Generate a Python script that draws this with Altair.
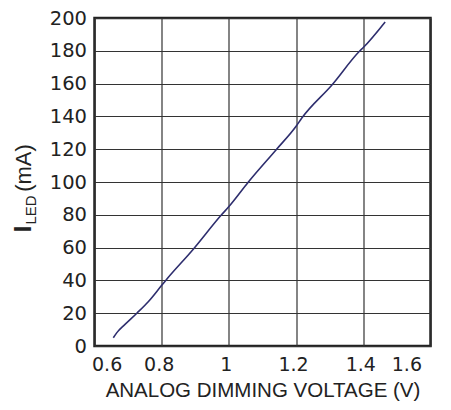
import altair as alt
import pandas as pd

voltage = [0.656, 0.666, 0.69, 0.726, 0.76, 0.8, 0.812, 0.894, 0.978, 1.0,
           1.058, 1.142, 1.2, 1.217, 1.306, 1.39, 1.4, 1.465]
current = [5, 8, 13, 20, 27, 37, 40, 59, 80, 85,
           100, 120, 134, 139, 159, 180, 182, 197.6]
x_ticks = [0.6, 0.8, 1.0, 1.2, 1.4, 1.6]
y_ticks = [0, 20, 40, 60, 80, 100, 120, 140, 160, 180, 200]
x_title = "ANALOG DIMMING VOLTAGE (V)"

df = pd.DataFrame({"v": voltage, "i": current})
FONT = "Liberation Sans"
TICKFONT = "DejaVu Sans"

line = alt.Chart(df).mark_line(color="#2e2e6e", strokeWidth=1.6, interpolate="monotone").encode(
    x=alt.X("v:Q", scale=alt.Scale(domain=[0.6, 1.6], nice=False),
            axis=alt.Axis(values=x_ticks, title=x_title,
                          labelExpr="datum.value == 1 ? '1' : format(datum.value, '.1f')",
                          labelOffset={"condition": {"test": "datum.value >= 1.55", "value": -9}, "value": -3},
                          grid=True, gridColor="#333333", gridWidth=1.2,
                          domain=False, ticks=False, labelPadding=9,
                          labelFont=TICKFONT, labelFontSize=19, labelColor="#222222",
                          titleFont=FONT, titleFontSize=20.5, titleFontWeight="normal",
                          titleColor="#222222", titleBaseline="alphabetic", titleY=50)),
    y=alt.Y("i:Q", scale=alt.Scale(domain=[0, 200], nice=False),
            axis=alt.Axis(values=y_ticks, title=None,
                          grid=True, gridColor="#333333", gridWidth=1.2,
                          domain=False, ticks=False, labelPadding=8,
                          labelFont=TICKFONT, labelFontSize=19.5, labelColor="#222222")),
)

def lab(text, x, y, size, weight="normal"):
    return alt.Chart(pd.DataFrame({"t": [text]})).mark_text(
        angle=270, align="center", baseline="middle", font=FONT,
        fontSize=size, fontWeight=weight, color="#222222"
    ).encode(text="t:N", x=alt.value(x), y=alt.value(y))

chart = alt.layer(
    line,
    lab("I", -71, 211, 24, "bold"),
    lab("LED", -64, 192, 15),
    lab("(mA)", -70.5, 150, 22),
).properties(
    width=336, height=328,
    autosize=alt.AutoSizeParams(type="none"),
    padding={"left": 86.5, "top": 10, "right": 12.5, "bottom": 55},
).configure_view(stroke="#222222", strokeWidth=2.5)

chart.save("out.html", embed_options={"renderer": "svg", "actions": False})
